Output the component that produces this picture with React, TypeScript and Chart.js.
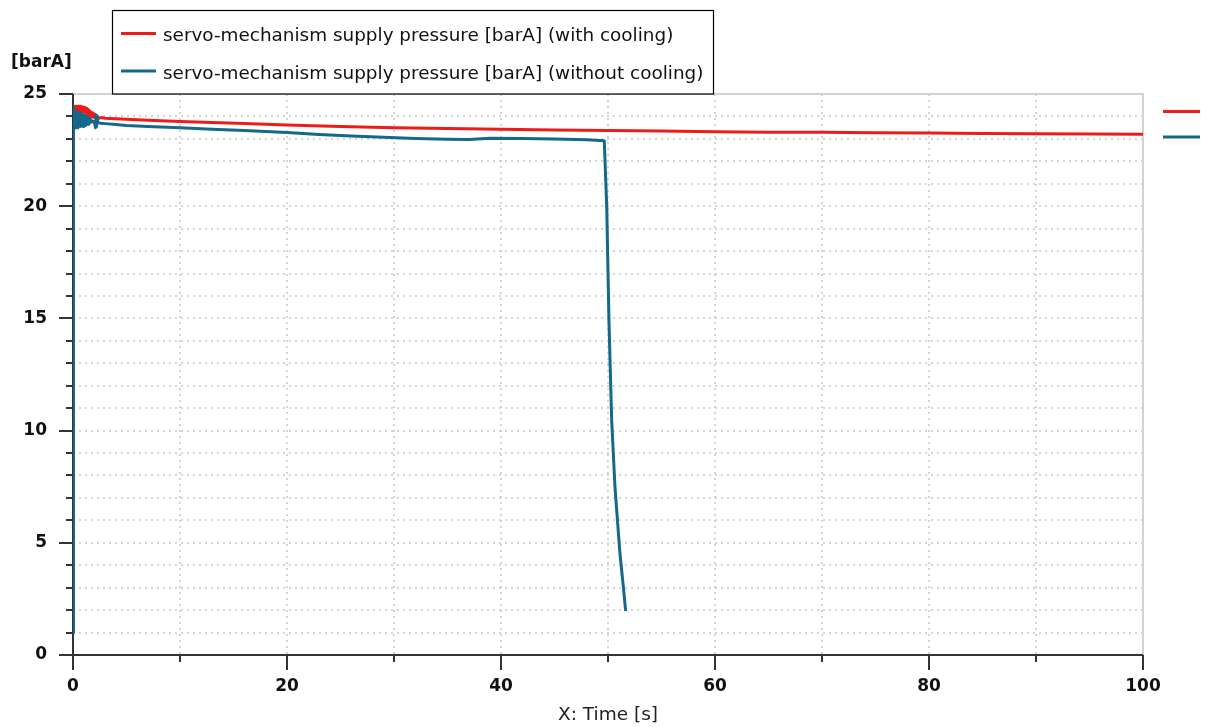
import React, { useEffect, useRef } from "react";
import { Chart, registerables } from "chart.js";

Chart.register(...registerables);

// ---- data ----
const seriesLabels = [
  "servo-mechanism supply pressure [barA] (with cooling)",
  "servo-mechanism supply pressure [barA] (without cooling)",
];
const seriesColors = ["#ee1b1b", "#14698a"];

const withCoolingTime = [
  0, 0.05, 0.1, 0.18, 0.26, 0.34, 0.42, 0.5, 0.58, 0.66, 0.74, 0.82, 0.9, 0.98,
  1.06, 1.14, 1.22, 1.3, 1.38, 1.46, 1.54, 1.62, 1.7, 1.78, 1.86, 1.94, 2.02,
  2.1, 2.2, 2.3, 2.4, 2.6, 3, 4, 5, 7, 10, 13, 16, 20, 25, 30, 35, 40, 45, 50,
  55, 60, 65, 70, 75, 80, 85, 90, 95, 100,
];
const withCoolingPressure = [
  1.0, 24.45, 24.2, 24.45, 24.15, 24.45, 24.2, 24.45, 24.15, 24.45, 24.2, 24.43,
  24.15, 24.42, 24.2, 24.4, 24.15, 24.35, 24.1, 24.3, 24.05, 24.22, 24.0,
  24.16, 23.98, 24.12, 23.95, 24.08, 23.9, 24.0, 23.92, 23.95, 23.92, 23.9,
  23.87, 23.83, 23.78, 23.73, 23.68, 23.62, 23.55, 23.5, 23.46, 23.43, 23.4,
  23.37, 23.35, 23.32, 23.3, 23.29, 23.27, 23.26, 23.24, 23.23, 23.22, 23.21,
];

const withoutCoolingTime = [
  0, 0.04, 0.1, 0.16, 0.22, 0.28, 0.34, 0.4, 0.46, 0.52, 0.58, 0.64, 0.7, 0.76,
  0.82, 0.88, 0.94, 1.0, 1.06, 1.12, 1.18, 1.24, 1.3, 1.36, 1.42, 1.48, 1.54,
  1.6, 1.7, 1.8, 1.9, 2.0, 2.1, 2.15, 2.2, 2.25, 2.3, 2.4, 2.6, 3, 4, 5, 7, 10,
  13, 16, 20, 23, 26, 29, 32, 35, 37, 39, 42, 45, 48, 49.65, 49.88, 50.09,
  50.34, 50.65, 50.9, 51.12, 51.4, 51.65,
];
const withoutCoolingPressure = [
  1.0, 24.45, 23.6, 24.2, 23.5, 24.15, 23.55, 24.2, 23.5, 24.1, 23.6, 24.15,
  23.55, 24.1, 23.6, 24.1, 23.55, 24.05, 23.6, 24.05, 23.6, 24.0, 23.65, 24.0,
  23.65, 23.95, 23.7, 23.9, 23.75, 23.8, 23.75, 23.78, 23.5, 24.05, 23.55,
  23.95, 23.72, 23.72, 23.7, 23.68, 23.64, 23.6, 23.55, 23.5, 23.43, 23.37,
  23.28, 23.2, 23.13, 23.07, 23.02, 22.98, 22.97, 23.03, 23.02, 23.0, 22.96,
  22.92, 20.0, 14.9, 10.5, 7.5, 5.9, 4.5, 3.2, 1.96,
];

const xMin = 0;
const xMax = 100;
const xStep = 10;
const xLabelEvery = 20;
const yMin = 0;
const yMax = 25;
const yStep = 1;
const yLabelEvery = 5;
const yUnitLabel = "[barA]";
const xAxisTitle = "X: Time [s]";

const FONT = '"DejaVu Sans", Verdana, sans-serif';

const decorPlugin = {
  id: "decor",
  beforeDatasetsDraw(chart: any) {
    const { ctx, chartArea: a, scales } = chart;
    const x = scales.x;
    const y = scales.y;
    ctx.save();
    // dotted grid
    ctx.strokeStyle = "#c8c8c8";
    ctx.lineWidth = 1.5;
    ctx.setLineDash([2, 4]);
    for (let v = yMin + yStep; v < yMax; v += yStep) {
      const py = Math.round(y.getPixelForValue(v));
      ctx.beginPath();
      ctx.moveTo(a.left, py);
      ctx.lineTo(a.right, py);
      ctx.stroke();
    }
    for (let t = xMin + xStep; t < xMax; t += xStep) {
      const px = Math.round(x.getPixelForValue(t));
      ctx.beginPath();
      ctx.moveTo(px, a.top);
      ctx.lineTo(px, a.bottom);
      ctx.stroke();
    }
    ctx.setLineDash([]);
    // light top / right frame
    ctx.strokeStyle = "#d2d2d2";
    ctx.lineWidth = 2;
    ctx.beginPath();
    ctx.moveTo(a.left, a.top);
    ctx.lineTo(a.right, a.top);
    ctx.lineTo(a.right, a.bottom);
    ctx.stroke();
    // dark axes
    ctx.strokeStyle = "#333333";
    ctx.lineWidth = 2;
    ctx.beginPath();
    ctx.moveTo(a.left, a.top);
    ctx.lineTo(a.left, a.bottom);
    ctx.lineTo(a.right, a.bottom);
    ctx.stroke();
    // tick marks
    for (let v = yMin; v <= yMax; v += yStep) {
      const py = Math.round(y.getPixelForValue(v));
      const len = v % yLabelEvery === 0 ? 14 : 7;
      ctx.beginPath();
      ctx.moveTo(a.left - len, py);
      ctx.lineTo(a.left, py);
      ctx.stroke();
    }
    for (let t = xMin; t <= xMax; t += xStep) {
      const px = Math.round(x.getPixelForValue(t));
      const len = t % xLabelEvery === 0 ? 15 : 7;
      ctx.beginPath();
      ctx.moveTo(px, a.bottom);
      ctx.lineTo(px, a.bottom + len);
      ctx.stroke();
    }
    ctx.restore();
  },
  afterDraw(chart: any) {
    const { ctx, chartArea: a } = chart;
    ctx.save();
    // unit label
    ctx.fillStyle = "#111111";
    ctx.font = `bold 17px ${FONT}`;
    ctx.textAlign = "left";
    ctx.textBaseline = "middle";
    ctx.fillText(yUnitLabel, 11, 63);
    // axis title
    ctx.font = `18.5px ${FONT}`;
    ctx.textAlign = "center";
    ctx.fillStyle = "#222222";
    ctx.fillText(xAxisTitle, (a.left + a.right) / 2, 715);
    // legend box
    ctx.fillStyle = "#ffffff";
    ctx.fillRect(112.5, 10.5, 601, 83.5);
    ctx.strokeStyle = "#000000";
    ctx.lineWidth = 1.2;
    ctx.strokeRect(112.5, 10.5, 601, 83.5);
    const rows = [33.5, 71];
    ctx.font = `18.4px ${FONT}`;
    ctx.textAlign = "left";
    chart.data.datasets.forEach((ds: any, i: number) => {
      const yy = rows[i];
      ctx.strokeStyle = ds.borderColor;
      ctx.lineWidth = 3;
      ctx.beginPath();
      ctx.moveTo(121, yy);
      ctx.lineTo(156, yy);
      ctx.stroke();
      ctx.fillStyle = "#111111";
      ctx.fillText(ds.label, 163, yy + 3);
      // right-side markers
      const my = i === 0 ? 111.5 : 137;
      ctx.beginPath();
      ctx.moveTo(1163, my);
      ctx.lineTo(1200, my);
      ctx.stroke();
    });
    ctx.restore();
  },
};

export default function App() {
  const canvasRef = useRef<HTMLCanvasElement | null>(null);

  useEffect(() => {
    const canvas = canvasRef.current;
    if (!canvas) return;
    const chart = new Chart(canvas, {
      type: "line",
      data: {
        datasets: [
          {
            label: seriesLabels[0],
            data: withCoolingTime.map((t, i) => ({ x: t, y: withCoolingPressure[i] })),
            borderColor: seriesColors[0],
            backgroundColor: seriesColors[0],
            borderWidth: 3,
            borderJoinStyle: "round",
            pointRadius: 0,
            tension: 0,
            order: 2,
          },
          {
            label: seriesLabels[1],
            data: withoutCoolingTime.map((t, i) => ({ x: t, y: withoutCoolingPressure[i] })),
            borderColor: seriesColors[1],
            backgroundColor: seriesColors[1],
            borderWidth: 3,
            borderJoinStyle: "round",
            pointRadius: 0,
            tension: 0,
            order: 1,
          },
        ],
      },
      options: {
        animation: false,
        responsive: false,
        devicePixelRatio: 1,
        layout: { padding: { left: 0, right: 62, top: 94, bottom: 0 } },
        plugins: { legend: { display: false }, tooltip: { enabled: false } },
        scales: {
          x: {
            type: "linear",
            min: xMin,
            max: xMax,
            afterFit: (s: any) => {
              s.height = 72;
            },
            grid: { display: false, drawTicks: false },
            border: { display: false },
            ticks: {
              stepSize: xStep,
              autoSkip: false,
              maxRotation: 0,
              padding: 21,
              color: "#111111",
              font: { family: FONT, size: 17, weight: "bold" },
              callback: (v: any) => (Number(v) % xLabelEvery === 0 ? String(v) : ""),
            },
          },
          y: {
            type: "linear",
            min: yMin,
            max: yMax,
            afterFit: (s: any) => {
              s.width = 73;
            },
            grid: { display: false, drawTicks: false },
            border: { display: false },
            ticks: {
              stepSize: yStep,
              autoSkip: false,
              padding: 26,
              color: "#111111",
              font: { family: FONT, size: 17, weight: "bold" },
              callback: (v: any) => (Number(v) % yLabelEvery === 0 ? String(v) : ""),
            },
          },
        },
      },
      plugins: [decorPlugin],
    });
    return () => chart.destroy();
  }, []);

  return (
    <div style={{ position: "absolute", left: 0, top: 0, width: 1205, height: 727, background: "#fff" }}>
      <canvas ref={canvasRef} width={1205} height={727} style={{ width: 1205, height: 727, display: "block" }} />
    </div>
  );
}
